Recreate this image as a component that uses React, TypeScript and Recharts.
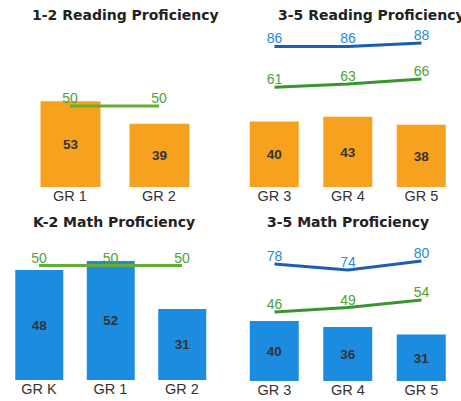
import { Bar, ComposedChart, LabelList, Line, XAxis, YAxis } from "recharts";

const read12Grades = ["GR 1", "GR 2"];
const read12Scores = [53, 39];
const read12Target = [50, 50];

const read35Grades = ["GR 3", "GR 4", "GR 5"];
const read35Scores = [40, 43, 38];
const read35State = [61, 63, 66];
const read35Top = [86, 86, 88];

const mathK2Grades = ["GR K", "GR 1", "GR 2"];
const mathK2Scores = [48, 52, 31];
const mathK2Target = [50, 50, 50];

const math35Grades = ["GR 3", "GR 4", "GR 5"];
const math35Scores = [40, 36, 31];
const math35State = [46, 49, 54];
const math35Top = [78, 74, 80];

const ORANGE = "#f7a21e";
const BLUE_BAR = "#1c8ce0";
const GREEN_LIGHT = "#66ad35";
const GREEN_DARK = "#3a952e";
const BLUE_LINE = "#1a5fb4";
const BLUE_LABEL = "#2a8ad8";
const GREEN_LABEL = "#4ea236";

const font = "'Liberation Sans', Arial, sans-serif";

type Row = { grade: string; score: number; green?: number; blue?: number };

function rows(grades: string[], scores: number[], green?: number[], blue?: number[]): Row[] {
  return grades.map((grade, i) => ({
    grade,
    score: scores[i],
    green: green ? green[i] : undefined,
    blue: blue ? blue[i] : undefined,
  }));
}

interface PanelProps {
  data: Row[];
  left: number;
  top: number;
  width: number;
  height: number;
  margin: { top: number; right: number; bottom: number; left: number };
  domainMax: number;
  barColor: string;
  barSize: number;
  greenColor: string;
  hasBlue: boolean;
}

function Panel(p: PanelProps) {
  return (
    <div style={{ position: "absolute", left: p.left, top: p.top }}>
      <ComposedChart width={p.width} height={p.height} data={p.data} margin={p.margin}>
        <XAxis
          dataKey="grade"
          axisLine={false}
          tickLine={false}
          tickSize={0}
          tickMargin={4}
          height={24}
          interval={0}
          tick={{ fontSize: 14.5, fill: "#333", fontFamily: font }}
        />
        <YAxis hide domain={[0, p.domainMax]} />
        <Bar dataKey="score" fill={p.barColor} barSize={p.barSize} isAnimationActive={false}>
          <LabelList
            dataKey="score"
            position="center"
            style={{ fontSize: 13.5, fontWeight: 700, fill: "#333", fontFamily: font }}
          />
        </Bar>
        <Line
          dataKey="green"
          stroke={p.greenColor}
          strokeWidth={3}
          dot={false}
          isAnimationActive={false}
        >
          <LabelList
            dataKey="green"
            position="top"
            offset={3}
            style={{ fontSize: 14, fill: GREEN_LABEL, fontFamily: font }}
          />
        </Line>
        {p.hasBlue && (
          <Line
            dataKey="blue"
            stroke={BLUE_LINE}
            strokeWidth={3}
            dot={false}
            isAnimationActive={false}
          >
            <LabelList
              dataKey="blue"
              position="top"
              offset={3}
              style={{ fontSize: 14, fill: BLUE_LABEL, fontFamily: font }}
            />
          </Line>
        )}
      </ComposedChart>
    </div>
  );
}

function Title({ text, left, top }: { text: string; left: number; top: number }) {
  return (
    <div
      style={{
        position: "absolute",
        left,
        top,
        whiteSpace: "nowrap",
        fontFamily: "'DejaVu Sans', Verdana, sans-serif",
        fontWeight: 700,
        fontSize: 14,
        lineHeight: "16px",
        color: "#222",
      }}
    >
      {text}
    </div>
  );
}

export default function App() {
  return (
    <div
      style={{
        position: "absolute",
        left: 0,
        top: 0,
        width: 461,
        height: 401,
        overflow: "hidden",
        background: "#fff",
      }}
    >
      <Title text="1-2 Reading Proficiency" left={32} top={7} />
      <Title text="3-5 Reading Proficiency" left={278} top={7} />
      <Title text="K-2 Math Proficiency" left={33} top={214} />
      <Title text="3-5 Math Proficiency" left={267} top={214} />

      <Panel
        data={rows(read12Grades, read12Scores, read12Target)}
        left={0}
        top={0}
        width={230}
        height={211}
        margin={{ top: 25, right: 26.5, bottom: 0, left: 25.5 }}
        domainMax={100}
        barColor={ORANGE}
        barSize={60}
        greenColor={GREEN_LIGHT}
        hasBlue={false}
      />
      <Panel
        data={rows(read35Grades, read35Scores, read35State, read35Top)}
        left={230}
        top={0}
        width={231}
        height={211}
        margin={{ top: 23.5, right: 2.75, bottom: 0, left: 7.75 }}
        domainMax={100}
        barColor={ORANGE}
        barSize={49}
        greenColor={GREEN_DARK}
        hasBlue={true}
      />
      <Panel
        data={rows(mathK2Grades, mathK2Scores, mathK2Target)}
        left={0}
        top={200}
        width={230}
        height={204}
        margin={{ top: 42.6, right: 12.25, bottom: 0, left: 3.25 }}
        domainMax={60}
        barColor={BLUE_BAR}
        barSize={48}
        greenColor={GREEN_LIGHT}
        hasBlue={false}
      />
      <Panel
        data={rows(math35Grades, math35Scores, math35State, math35Top)}
        left={230}
        top={200}
        width={231}
        height={205}
        margin={{ top: 31, right: 2.75, bottom: 0, left: 7.75 }}
        domainMax={100}
        barColor={BLUE_BAR}
        barSize={49}
        greenColor={GREEN_DARK}
        hasBlue={true}
      />
    </div>
  );
}
